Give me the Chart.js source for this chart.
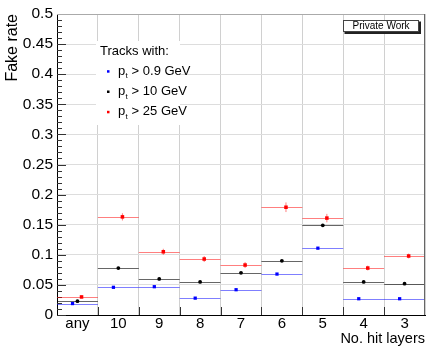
<!DOCTYPE html>
<html>
<head>
<meta charset="utf-8">
<script src="https://cdn.jsdelivr.net/npm/chart.js@4/dist/chart.umd.min.js"></script>
<style>
  html, body { margin: 0; padding: 0; background: #fff; }
  #wrap { width: 429px; height: 349px; }
</style>
</head>
<body>
<div id="wrap"><canvas id="chart" width="429" height="349"></canvas></div>
<script>
// bins (number of hit layers)
const categories = ['any', '10', '9', '8', '7', '6', '5', '4', '3'];
const yTicks = [0, 0.05, 0.1, 0.15, 0.2, 0.25, 0.3, 0.35, 0.4, 0.45, 0.5];
const yTickLabels = ['0', '0.05', '0.1', '0.15', '0.2', '0.25', '0.3', '0.35', '0.4', '0.45', '0.5'];

// fake rate per bin, one array per pt cut
const rateLowPt  = [0.019, 0.046, 0.047, 0.028, 0.042, 0.068, 0.111, 0.027, 0.027];
const rateMidPt  = [0.023, 0.078, 0.060, 0.055, 0.070, 0.090, 0.149, 0.055, 0.052];
const rateHighPt = [0.030, 0.163, 0.105, 0.093, 0.083, 0.179, 0.161, 0.078, 0.098];

// statistical errors
const errLowPt  = [0.001, 0.001, 0.001, 0.001, 0.001, 0.001, 0.001, 0.001, 0.001];
const errMidPt  = [0.001, 0.002, 0.002, 0.002, 0.002, 0.002, 0.002, 0.002, 0.002];
const errHighPt = [0.002, 0.006, 0.005, 0.005, 0.005, 0.008, 0.007, 0.004, 0.004];

const seriesNames = ['> 0.9 GeV', '> 10 GeV', '> 25 GeV'];

const FONT = "'Liberation Sans', Arial, Helvetica, sans-serif";
Chart.defaults.font.family = FONT;
Chart.defaults.color = '#000';

// small shift inside each bin so the markers do not overlap
const shifts = [-0.12, 0, 0.1];
const markerColors = ['#0000ff', '#000000', '#ff0000'];
const barColors = ['rgba(0,0,255,0.5)', 'rgba(0,0,0,0.6)', 'rgba(255,0,0,0.5)'];

function points(values, errs, shift) {
  return values.map((v, i) => ({ x: i + 0.5 + shift, y: v, err: errs[i] }));
}

const rootStyle = {
  id: 'rootStyle',
  beforeDatasetsDraw(chart) {
    const { ctx, chartArea: a, scales: { x, y } } = chart;
    ctx.save();
    ctx.lineWidth = 1;

    // ticks inside the frame
    ctx.strokeStyle = '#333';
    ctx.beginPath();
    for (let k = 0; k <= 50; k++) {
      const py = Math.round(y.getPixelForValue(k / 100)) + 0.5;
      const len = k % 5 === 0 ? 9 : 5;
      ctx.moveTo(a.left, py);
      ctx.lineTo(a.left + len, py);
    }
    for (let i = 1; i < categories.length; i++) {
      const px = Math.round(x.getPixelForValue(i)) + 0.5;
      ctx.moveTo(px, a.bottom);
      ctx.lineTo(px, a.bottom - 8);
    }
    ctx.stroke();

    // error bars: full bin width, vertical stat error
    chart.data.datasets.forEach((ds, di) => {
      ctx.strokeStyle = barColors[di];
      ctx.beginPath();
      ds.data.forEach((pt, i) => {
        const py = Math.round(y.getPixelForValue(pt.y)) + 0.5;
        ctx.moveTo(x.getPixelForValue(i), py);
        ctx.lineTo(x.getPixelForValue(i + 1), py);
        const px = x.getPixelForValue(pt.x);
        ctx.moveTo(px, y.getPixelForValue(pt.y - pt.err));
        ctx.lineTo(px, y.getPixelForValue(pt.y + pt.err));
      });
      ctx.stroke();
    });
    ctx.restore();
  },
  afterDraw(chart) {
    const { ctx, chartArea: a } = chart;
    ctx.save();

    // frame top / right
    ctx.lineWidth = 1;
    ctx.strokeStyle = '#aaa';
    ctx.beginPath();
    ctx.moveTo(a.left, a.top + 0.5);
    ctx.lineTo(a.right, a.top + 0.5);
    ctx.stroke();
    ctx.strokeStyle = '#666';
    ctx.beginPath();
    ctx.moveTo(a.right - 0.5, a.top);
    ctx.lineTo(a.right - 0.5, a.bottom);
    ctx.stroke();

    // legend
    ctx.fillStyle = '#fff';
    ctx.fillRect(96, 41, 84, 84);
    ctx.fillStyle = '#000';
    ctx.textBaseline = 'alphabetic';
    ctx.textAlign = 'left';
    ctx.font = '13px ' + FONT;
    ctx.fillText('Tracks with:', 100, 55);
    seriesNames.forEach((name, i) => {
      const base = 74.7 + i * 20.3;
      ctx.fillStyle = markerColors[i];
      ctx.fillRect(107, base - 4.5, 2.5, 2.5);
      ctx.fillStyle = '#000';
      ctx.font = '13px ' + FONT;
      ctx.fillText('p', 118, base);
      ctx.font = '8px ' + FONT;
      ctx.fillText('t', 125.5, base + 3.5);
      ctx.font = '13px ' + FONT;
      ctx.fillText(' ' + name, 128, base);
    });

    // "Private Work" label box
    ctx.fillStyle = '#222';
    ctx.fillRect(344.5, 21.5, 76.5, 12.5);
    ctx.fillStyle = '#fff';
    ctx.fillRect(343, 20, 76, 12);
    ctx.strokeStyle = '#444';
    ctx.strokeRect(343.5, 20.5, 75, 11);
    ctx.fillStyle = '#000';
    ctx.font = '10px ' + FONT;
    ctx.textAlign = 'center';
    ctx.textBaseline = 'middle';
    ctx.fillText('Private Work', 381, 26.5);
    ctx.restore();
  }
};

const xTickValues = categories.flatMap((c, i) => [i, i + 0.5]).concat([categories.length]);

new Chart(document.getElementById('chart'), {
  type: 'scatter',
  data: {
    datasets: [
      { label: seriesNames[0], data: points(rateLowPt, errLowPt, shifts[0]),
        backgroundColor: markerColors[0], borderColor: markerColors[0], pointStyle: 'rect', pointRadius: 2.3, borderWidth: 0 },
      { label: seriesNames[1], data: points(rateMidPt, errMidPt, shifts[1]),
        backgroundColor: markerColors[1], borderColor: markerColors[1], pointStyle: 'circle', pointRadius: 1.9, borderWidth: 0 },
      { label: seriesNames[2], data: points(rateHighPt, errHighPt, shifts[2]),
        backgroundColor: markerColors[2], borderColor: markerColors[2], pointStyle: 'rect', pointRadius: 2.5, borderWidth: 0 }
    ]
  },
  options: {
    responsive: false,
    animation: false,
    devicePixelRatio: 1,
    layout: { padding: { top: 14, right: 2, left: 0, bottom: 0 } },
    plugins: { legend: { display: false }, tooltip: { enabled: false } },
    scales: {
      x: {
        type: 'linear',
        min: 0,
        max: categories.length,
        afterBuildTicks: s => { s.ticks = xTickValues.map(v => ({ value: v })); },
        afterFit: s => { s.height = 34; },
        ticks: {
          autoSkip: false, maxRotation: 0, minRotation: 0, padding: 0,
          font: { size: 15 },
          callback: v => (v % 1 ? categories[Math.floor(v)] : '')
        },
        grid: {
          drawTicks: false,
          color: c => (c.tick && c.tick.value % 1 === 0 ? '#d0d0d0' : 'rgba(0,0,0,0)')
        },
        border: { color: '#000' },
        title: { display: true, text: 'No. hit layers', align: 'end', font: { size: 14.5 }, padding: { top: 0, bottom: 1 } }
      },
      y: {
        min: 0,
        max: 0.5,
        afterBuildTicks: s => { s.ticks = yTicks.map(v => ({ value: v })); },
        afterFit: s => { s.width = 57; },
        ticks: {
          padding: 4,
          font: { size: 15.5 },
          callback: (v, i) => yTickLabels[i]
        },
        grid: { drawTicks: false, color: '#dddddd' },
        border: { color: '#000' },
        title: { display: true, text: 'Fake rate', align: 'end', font: { size: 16 }, padding: { top: 3, bottom: 0 } }
      }
    }
  },
  plugins: [rootStyle]
});
</script>
</body>
</html>
